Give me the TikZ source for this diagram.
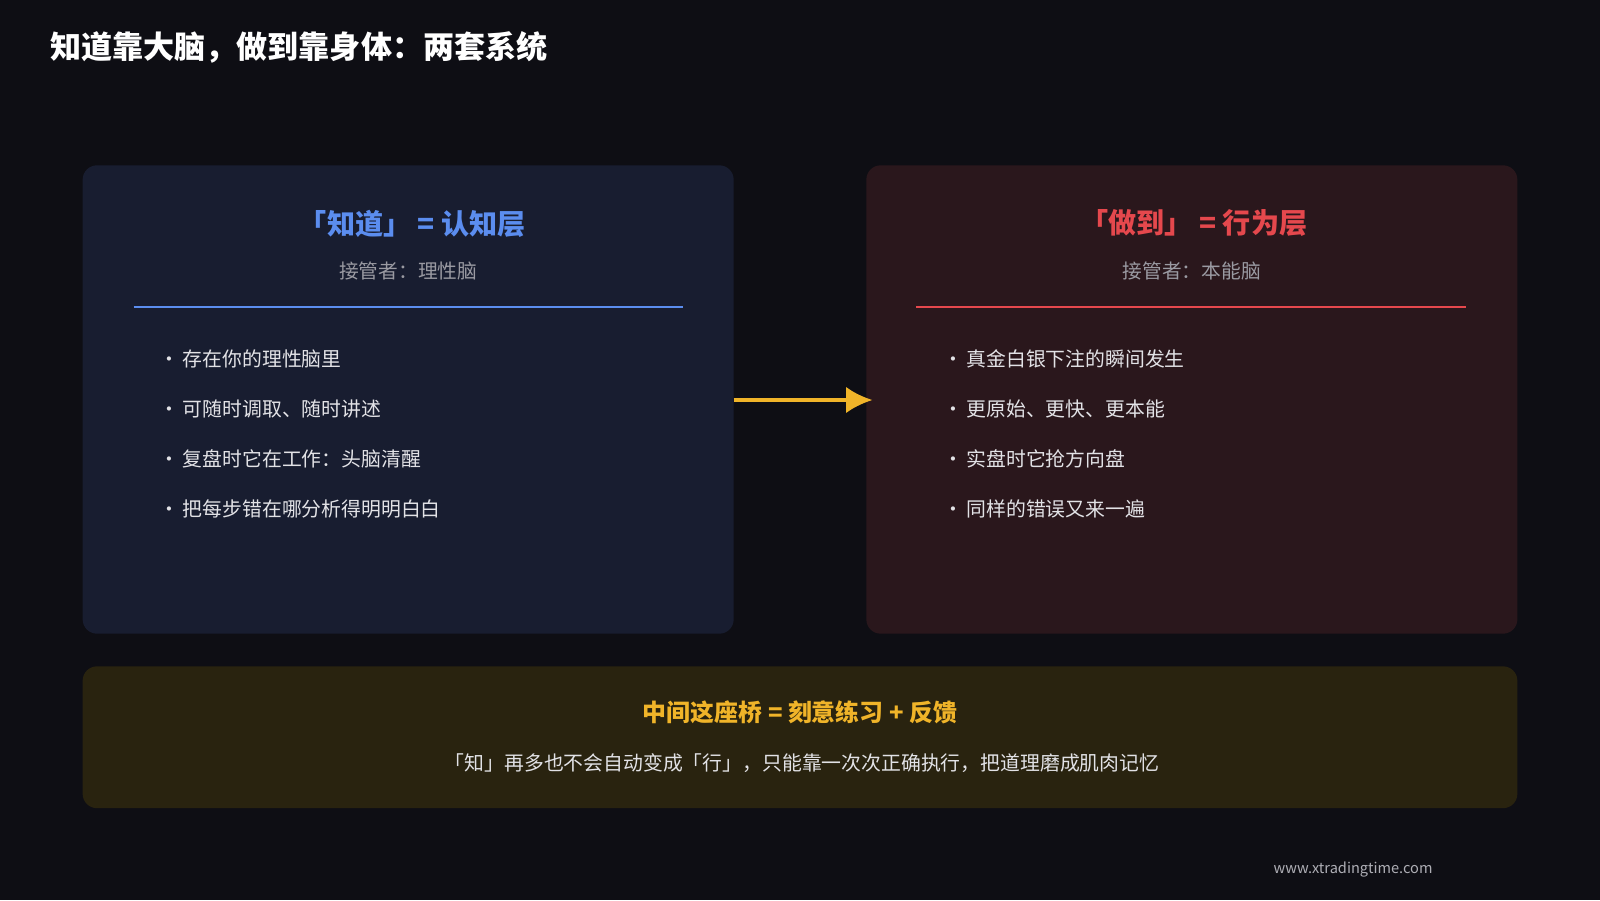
\documentclass[tikz,border=0pt]{standalone}
\usepackage{fontspec}
\setmainfont{Noto Sans CJK SC}
\usetikzlibrary{positioning,arrows.meta}
\definecolor{bgdark}{HTML}{0E0E14}
\definecolor{leftfill}{HTML}{181D30}
\definecolor{rightfill}{HTML}{2A171C}
\definecolor{bridgefill}{HTML}{29230F}
\definecolor{knowblue}{HTML}{5B8DEF}
\definecolor{dored}{HTML}{E5484D}
\definecolor{bridgegold}{HTML}{F0B429}
\definecolor{subgray}{HTML}{9A9AA2}
\definecolor{bodytext}{HTML}{E2E2E6}
\tikzset{
  panel/.style={rounded corners=12pt},
  heading/.style={font=\fontsize{23.5}{27}\selectfont\bfseries},
  subline/.style={font=\fontsize{16.5}{19}\selectfont, text=subgray},
  item/.style={anchor=west, font=\fontsize{16.6}{19}\selectfont, text=bodytext, inner sep=0pt},
}
\begin{document}
\begin{tikzpicture}[x=0.03cm, y=-0.03cm]
\fill [bgdark] (0,0) rectangle (1568,882);
\useasboundingbox (0,0) rectangle (1568,882);

\node [anchor=west, text=white, font=\fontsize{26}{30}\selectfont\bfseries, inner sep=0pt] (title) at (49,46) {知道靠大脑，做到靠身体：两套系统};

% two panels
\fill [panel, leftfill] (81,162) rectangle (719,621);
\fill [panel, rightfill] (849,162) rectangle (1487,621);
\coordinate (leftedge) at (719,392);
\coordinate (rightedge) at (855,392);

% left panel
\node [heading, text=knowblue] (knowhead) at (404,219) {「知道」 = 认知层};
\node [subline] (knowsub) at (400,266) {接管者：理性脑};
\draw [knowblue, line width=1.2pt] (131,301) -- (669,301);
\foreach \txt [count=\i] in {存在你的理性脑里, 可随时调取、随时讲述, 复盘时它在工作：头脑清醒, 把每步错在哪分析得明明白白}
  \node [item] (know\i) at (156,{352+49*(\i-1)}) {·\hspace{3pt}\txt};

% right panel
\node [heading, text=dored] (dohead) at (1170,219) {「做到」 = 行为层};
\node [subline] (dosub) at (1168,266) {接管者：本能脑};
\draw [dored, line width=1.2pt] (898,301) -- (1437,301);
\foreach \txt [count=\i] in {真金白银下注的瞬间发生, 更原始、更快、更本能, 实盘时它抢方向盘, 同样的错误又来一遍}
  \node [item] (do\i) at (924,{352+49*(\i-1)}) {·\hspace{3pt}\txt};

% arrow
\draw [-{Latex[length=22pt, width=22pt]}, bridgegold, line width=3pt] (leftedge) -- (rightedge);

% bridge
\fill [panel, bridgefill] (81,653) rectangle (1487,792);
\node [text=bridgegold, font=\fontsize{20}{23}\selectfont\bfseries] (bridgehead) at (784,698) {中间这座桥 = 刻意练习 + 反馈};
\node [font=\fontsize{16.6}{19}\selectfont, text=bodytext] (bridgetext) at (786,748) {「知」再多也不会自动变成「行」，只能靠一次次正确执行，把道理磨成肌肉记忆};

\node [font=\fontsize{12.2}{14}\selectfont, text=subgray!80] (site) at (1326,852) {www.xtradingtime.com};
\end{tikzpicture}
\end{document}
